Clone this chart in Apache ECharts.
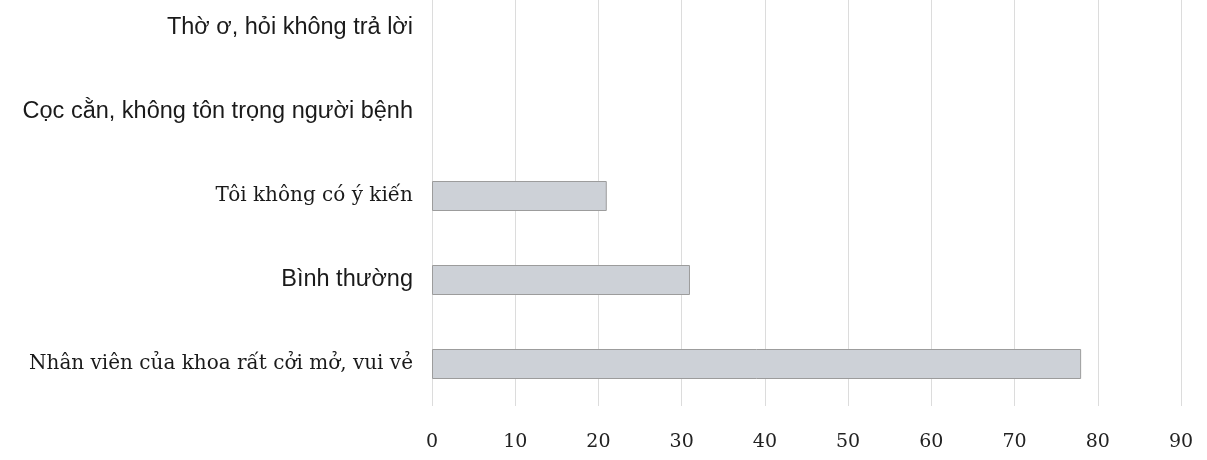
<!DOCTYPE html>
<html>
<head>
<meta charset="utf-8">
<script src="https://cdn.jsdelivr.net/npm/echarts@6/dist/echarts.min.js"></script>
<style>html,body{margin:0;padding:0;background:#fff}#c{width:1207px;height:460px}</style>
</head>
<body>
<div id="c"></div>
<script>
const categories = [
  "Nhân viên của khoa rất cởi mở, vui vẻ",
  "Bình thường",
  "Tôi không có ý kiến",
  "Cọc cằn, không tôn trọng người bệnh",
  "Thờ ơ, hỏi không trả lời"
];
const labelStyles = ["serif", "sans", "serif", "sans", "sans"];
const values = [78, 31, 21, 0, 0];
const xTicks = [0, 10, 20, 30, 40, 50, 60, 70, 80, 90];

const chart = echarts.init(document.getElementById('c'), null, {renderer: 'canvas'});
chart.setOption({
  backgroundColor: '#ffffff',
  animation: false,
  grid: {left: 432, width: 749, top: -14, height: 420, outerBoundsMode: 'none', containLabel: false},
  xAxis: {
    type: 'value', min: xTicks[0], max: xTicks[xTicks.length - 1], interval: 10,
    axisLine: {show: false}, axisTick: {show: false},
    splitLine: {show: true, lineStyle: {color: '#dcdcdc', width: 1}},
    axisLabel: {margin: 27, color: '#222', fontFamily: 'DejaVu Serif', fontSize: 19}
  },
  yAxis: {
    type: 'category', data: categories,
    axisLine: {show: false}, axisTick: {show: false},
    axisLabel: {
      margin: 19, color: '#1a1a1a',
      formatter: function (v, i) { return '{' + labelStyles[i] + '|' + v + '}'; },
      rich: {
        serif: {fontFamily: 'DejaVu Serif', fontSize: 20, color: '#1a1a1a'},
        sans: {fontFamily: 'Liberation Sans', fontSize: 23.5, color: '#1a1a1a'}
      }
    }
  },
  series: [{
    type: 'bar', barWidth: 30,
    data: values.map(function (v) {
      return {value: v, itemStyle: {borderWidth: v === 0 ? 0 : 1}};
    }),
    itemStyle: {color: '#cdd1d7', borderColor: '#9c9c9c', borderWidth: 1}
  }]
});
</script>
</body>
</html>
